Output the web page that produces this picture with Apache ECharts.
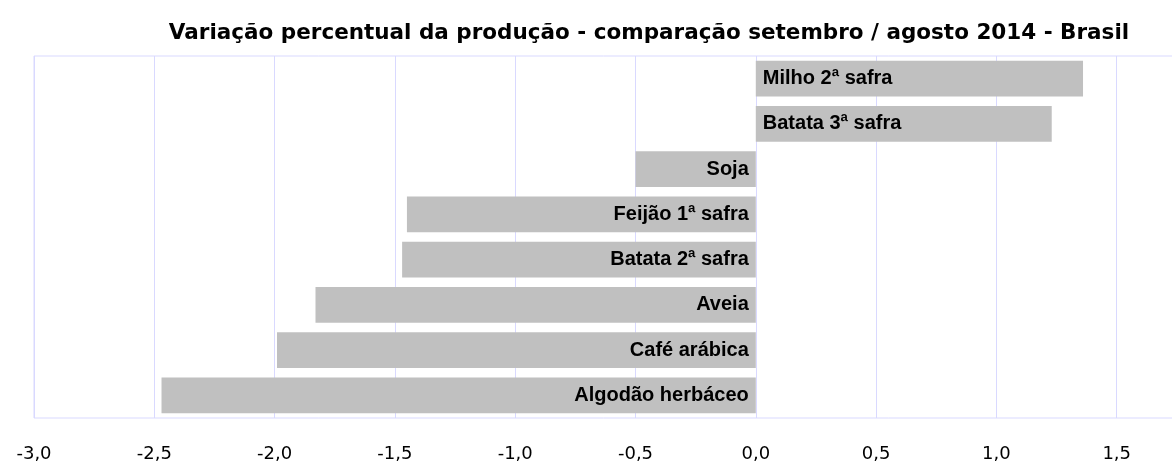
<!DOCTYPE html>
<html>
<head>
<meta charset="utf-8">
<title>Variação percentual da produção</title>
<script src="https://cdn.jsdelivr.net/npm/echarts@6/dist/echarts.min.js"></script>
<style>
  html, body { margin: 0; padding: 0; background: #fff; }
  #chart { width: 1172px; height: 464px; }
</style>
</head>
<body>
<div id="chart"></div>
<script>
  // dados
  var categorias = ['Milho 2ª safra', 'Batata 3ª safra', 'Soja', 'Feijão 1ª safra',
    'Batata 2ª safra', 'Aveia', 'Café arábica', 'Algodão herbáceo'];
  var variacao = [1.36, 1.23, -0.50, -1.45, -1.47, -1.83, -1.99, -2.47];
  var xMin = -3.0;
  var xMax = 2.0;
  var xPasso = 0.5;

  var myChart = echarts.init(document.getElementById('chart'));

  // rótulo dentro da barra, sempre do lado do zero
  var dados = variacao.map(function (v, i) {
    return {
      value: v,
      name: categorias[i],
      label: {position: v >= 0 ? 'insideLeft' : 'insideRight'}
    };
  });

  var option = {
    animation: false,
    title: {
      text: 'Variação percentual da produção - comparação setembro / agosto 2014 - Brasil',
      left: 644,
      textAlign: 'center',
      top: 17,
      textStyle: {
        fontFamily: 'DejaVu Sans',
        fontSize: 21.5,
        fontWeight: 'bold',
        color: '#000'
      }
    },
    // área do gráfico passa da borda direita (sem borda visível à direita)
    grid: {
      left: 34,
      top: 56,
      height: 362,
      width: 1203,
      outerBoundsMode: 'none',
      show: true,
      borderColor: '#d9d9ff',
      borderWidth: 1
    },
    xAxis: {
      type: 'value',
      min: xMin,
      max: xMax,
      interval: xPasso,
      axisLine: {show: false},
      axisTick: {show: false},
      splitLine: {lineStyle: {color: '#d9d9ff', width: 1}},
      axisLabel: {
        margin: 27,
        fontFamily: 'DejaVu Sans',
        fontSize: 18,
        color: '#000',
        formatter: function (v) {
          return v.toFixed(1).replace('.', ',');
        }
      }
    },
    yAxis: {
      type: 'category',
      inverse: true,
      data: categorias,
      axisLine: {show: false},
      axisTick: {show: false},
      axisLabel: {show: false},
      splitLine: {show: false}
    },
    series: [
      {
        type: 'bar',
        data: dados,
        barCategoryGap: '21.5%',
        itemStyle: {color: '#c0c0c0'},
        label: {
          show: true,
          formatter: '{b}',
          distance: 7,
          fontFamily: 'Liberation Sans',
          fontSize: 20,
          fontWeight: 'bold',
          color: '#000'
        }
      }
    ]
  };

  myChart.setOption(option, true);
</script>
</body>
</html>
